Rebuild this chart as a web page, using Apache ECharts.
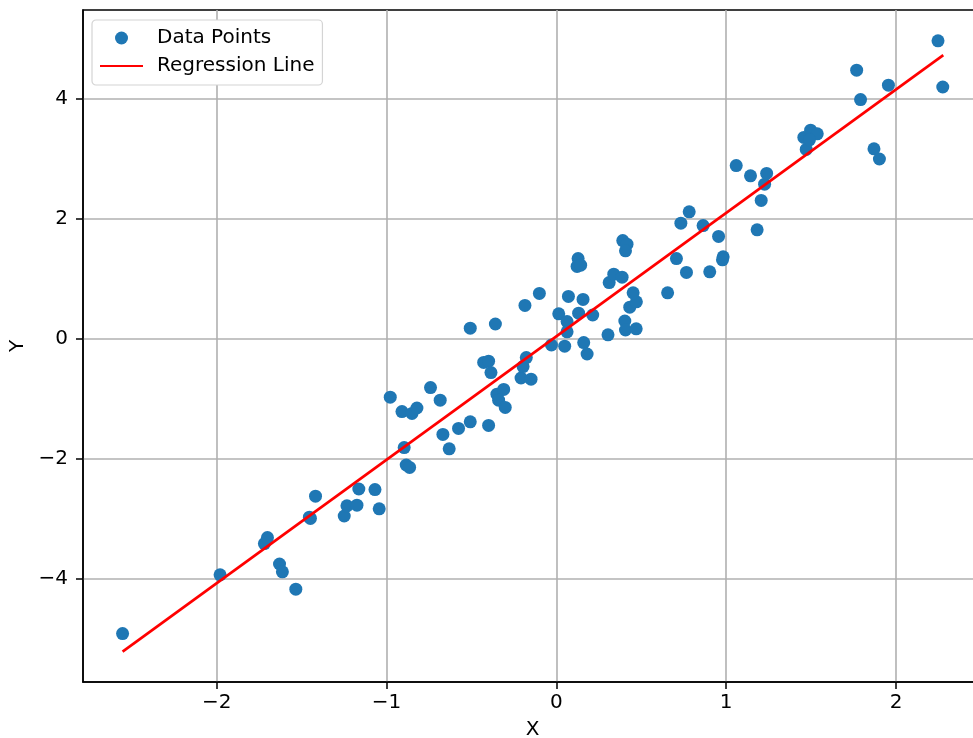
<!DOCTYPE html>
<html lang="en">
<head>
  <meta charset="UTF-8">
  <title>regression</title>
  <script src="https://cdn.jsdelivr.net/npm/echarts@6/dist/echarts.min.js"></script>
  <style>
    html, body { margin: 0; padding: 0; background: #fff; }
    #main { width: 973px; height: 738px; }
  </style>
</head>
<body>
  <div id="main"></div>
  <script type="text/javascript">
    // scatter values
    var pointX = [-2.554, -1.98, -1.719, -1.701, -1.630, -1.613, -1.534, -1.454, -1.418, -1.249,
      -1.233, -1.174, -1.163, -1.068, -1.043, -0.978, -0.909, -0.850, -0.821, -0.896,
      -0.884, -0.864, -0.741, -0.684, -0.668, -0.631, -0.576, -0.507, -0.507, -0.399,
      -0.359, -0.428, -0.399, -0.385, -0.350, -0.310, -0.340, -0.301, -0.208, -0.149,
      -0.196, -0.177, -0.185, -0.100, -0.029, 0.014, 0.049, 0.063, 0.063, 0.071,
      0.131, 0.157, 0.161, 0.181, 0.214, 0.128, 0.122, 0.143, 0.304, 0.403,
      0.407, 0.470, 0.432, 0.471, 0.452, 0.311, 0.338, 0.387, 0.391, 0.416,
      0.407, 0.655, 0.707, 0.766, 0.903, 0.982, 0.978, 0.955, 0.864, 0.733,
      0.782, 1.182, 1.206, 1.226, 1.238, 1.143, 1.059, 1.471, 1.457, 1.497,
      1.536, 1.490, 1.870, 1.902, 1.768, 1.791, 1.955, 2.247, 2.275, -1.448]
    var pointY = [-4.91, -3.93, -3.41, -3.31, -3.75, -3.88, -4.17, -2.97, -2.62, -2.95,
      -2.78, -2.77, -2.50, -2.51, -2.83, -0.97, -1.21, -1.24, -1.15, -1.81,
      -2.10, -2.14, -0.81, -1.02, -1.59, -1.83, -1.49, -1.38, 0.18, -1.44,
      0.25, -0.39, -0.37, -0.56, -0.92, -0.84, -1.02, -1.14, -0.65, -0.67,
      -0.46, -0.31, 0.56, 0.76, -0.10, 0.42, -0.12, 0.29, 0.12, 0.71,
      0.43, 0.66, -0.06, -0.25, 0.40, 1.34, 1.21, 1.23, 0.07, 0.30,
      0.15, 0.17, 0.53, 0.62, 0.77, 0.94, 1.08, 1.03, 1.64, 1.58,
      1.47, 0.77, 1.34, 1.11, 1.12, 1.37, 1.32, 1.71, 1.89, 1.93,
      2.12, 1.82, 2.31, 2.58, 2.76, 2.72, 2.89, 3.16, 3.36, 3.48,
      3.42, 3.32, 3.17, 3.00, 4.48, 3.99, 4.23, 4.97, 4.20, -2.99]
    // regression line end points
    var lineX = [-2.554, 2.278]
    var lineY = [-5.21, 4.73]
    var xTicks = [-2, -1, 0, 1, 2]
    var yTicks = [-4, -2, 0, 2, 4]

    var points = pointX.map(function (x, i) { return [x, pointY[i]] })
    var line = lineX.map(function (x, i) { return [x, lineY[i]] })

    function minus(v) {
      return String(v).replace('-', '\u2212')
    }

    var font = 'DejaVu Sans'
    var fs = 20
    var myChart = echarts.init(document.getElementById('main'))

    myChart.setOption({
      backgroundColor: '#fff',
      animation: false,
      textStyle: { fontFamily: font },
      grid: {
        left: 83,
        top: 10,
        width: 899,
        height: 672,
        outerBoundsMode: 'none',
        containLabel: false,
        show: true,
        borderColor: '#000',
        borderWidth: 1.5,
        backgroundColor: 'transparent'
      },
      legend: {
        left: 92,
        top: 20,
        orient: 'vertical',
        backgroundColor: '#fff',
        borderColor: '#d4d4d4',
        borderWidth: 1.2,
        borderRadius: 4,
        padding: [8, 8, 9, 7],
        itemWidth: 43,
        itemHeight: 13,
        itemGap: 8,
        textStyle: { fontFamily: font, fontSize: fs, color: '#000', padding: [0, 0, 0, 9] },
        data: [
          { name: 'Data Points', icon: 'circle' },
          { name: 'Regression Line', itemStyle: { opacity: 0 } }
        ]
      },
      xAxis: {
        type: 'value',
        min: -2.787,
        max: 2.506,
        name: 'X',
        nameLocation: 'middle',
        nameGap: 38,
        nameTextStyle: { fontFamily: font, fontSize: fs, color: '#000' },
        axisLine: { onZero: false, lineStyle: { color: '#000', width: 1.5 } },
        axisTick: { customValues: xTicks, length: 7, lineStyle: { color: '#000', width: 1.5 } },
        axisLabel: {
          customValues: xTicks, fontFamily: font, fontSize: fs, color: '#000', margin: 11,
          formatter: minus
        },
        splitLine: { show: true, lineStyle: { color: '#b0b0b0', width: 1.6 } }
      },
      yAxis: {
        type: 'value',
        min: -5.717,
        max: 5.483,
        name: 'Y',
        nameLocation: 'middle',
        nameGap: 48,
        nameTextStyle: { fontFamily: font, fontSize: fs, color: '#000' },
        axisLine: { onZero: false, lineStyle: { color: '#000', width: 1.5 } },
        axisTick: { customValues: yTicks, length: 7, lineStyle: { color: '#000', width: 1.5 } },
        axisLabel: {
          customValues: yTicks, fontFamily: font, fontSize: fs, color: '#000', margin: 15,
          formatter: minus
        },
        splitLine: { show: true, lineStyle: { color: '#b0b0b0', width: 1.6 } }
      },
      series: [
        {
          name: 'Data Points',
          type: 'scatter',
          symbol: 'circle',
          symbolSize: 13,
          itemStyle: { color: '#1f77b4', opacity: 1 },
          data: points
        },
        {
          name: 'Regression Line',
          type: 'line',
          symbol: 'none',
          lineStyle: { color: '#ff0000', width: 2.7 },
          itemStyle: { color: '#ff0000' },
          data: line
        }
      ]
    })
  </script>
</body>
</html>
